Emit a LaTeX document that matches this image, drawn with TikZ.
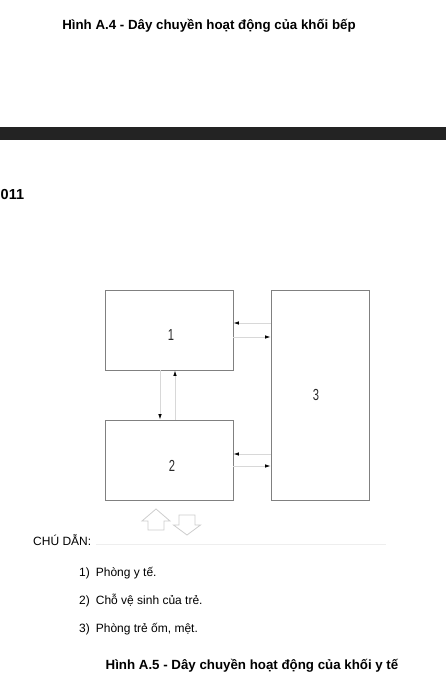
\documentclass[tikz,border=0pt]{standalone}
\usepackage{fontspec}
\usepackage{graphicx}
\setmainfont{Liberation Sans}
\usetikzlibrary{arrows.meta}
\definecolor{boxgray}{HTML}{808080}
\definecolor{linegray}{HTML}{D8D8D8}
\definecolor{hollowgray}{HTML}{CCCCCC}
\definecolor{barcolor}{HTML}{232323}
\definecolor{rulegray}{HTML}{EEEEEE}
\definecolor{numgray}{HTML}{2A2A2A}
\begin{document}
\begin{tikzpicture}[x=1pt,y=-1pt,
  box/.style={draw=boxgray, line width=0.9pt, inner sep=0pt, rectangle},
  num/.style={font=\fontsize{16}{16}\selectfont, text=numgray, inner sep=0pt, anchor=base},
  conn/.style={draw=linegray, line width=0.8pt, -{Latex[length=5.5pt,width=3.5pt,color=black]}},
  hollow/.style={draw=hollowgray, line width=0.8pt, line join=miter},
  captext/.style={font=\bfseries\fontsize{13.3}{16}\selectfont, inner sep=0pt, anchor=base},
  listtext/.style={font=\fontsize{12}{14}\selectfont, inner sep=0pt, anchor=base west}
]
\useasboundingbox (0,0) rectangle (446,695);

% top caption
\node[captext] (t4) at (209,29.5) {Hình A.4 - Dây chuyền hoạt động của khối bếp};

% dark bar
\fill[barcolor] (0,127) rectangle (446,140);

% header fragment
\node[font=\bfseries\fontsize{14.5}{16}\selectfont, inner sep=0pt, anchor=base west] (yr) at (0.5,199) {011};

% boxes
\node[box, minimum width=128pt, minimum height=80pt] (b1) at (169,330) {};
\node[box, minimum width=128pt, minimum height=80pt] (b2) at (169,460) {};
\node[box, minimum width=98pt, minimum height=210pt] (b3) at (320,395) {};

\node[num] (n1) at (171,340) {\scalebox{0.7}[1]{1}};
\node[num] (n2) at (172,471) {\scalebox{0.7}[1]{2}};
\node[num] (n3) at (316,400) {\scalebox{0.7}[1]{3}};

% connectors 1 <-> 3
\coordinate (u1) at ([yshift=7pt]b1.east);
\coordinate (l1) at ([yshift=-7pt]b1.east);
\draw[conn] (u1 -| b3.west) -- (u1);
\draw[conn] (l1) -- (l1 -| b3.west);

% connectors 2 <-> 3
\coordinate (u2) at ([yshift=6pt]b2.east);
\coordinate (l2) at ([yshift=-6pt]b2.east);
\draw[conn] (u2 -| b3.west) -- (u2);
\draw[conn] (l2) -- (l2 -| b3.west);

% connectors 1 <-> 2
\coordinate (v1) at ([xshift=-9pt]b1.south);
\coordinate (v2) at ([xshift=6pt]b2.north);
\draw[conn] (v1) -- (v1 |- b2.north);
\draw[conn] (v2) -- (v2 |- b1.south);

% hollow arrows
\draw[hollow] (148,530) -- (148,521) -- (142,521) -- (156,509) -- (170,521) -- (164,521) -- (164,530) -- cycle;
\draw[hollow] (179,515) -- (195,515) -- (195,525) -- (200.5,525) -- (187,535) -- (173.5,525) -- (179,525) -- cycle;

% legend
\node[font=\fontsize{12}{14}\selectfont, inner sep=0pt, anchor=base west] (cd) at (33,545) {CHÚ DẪN:};
\draw[rulegray, line width=0.6pt] (96,544) -- (386,544);
\node[listtext] (i1) at (79,576) {1)\hspace{6pt}Phòng y tế.};
\node[listtext] (i2) at (79,604) {2)\hspace{6pt}Chỗ vệ sinh của trẻ.};
\node[listtext] (i3) at (79,632) {3)\hspace{6pt}Phòng trẻ ốm, mệt.};

% bottom caption
\node[captext] (t5) at (252,669) {Hình A.5 - Dây chuyền hoạt động của khối y tế};
\end{tikzpicture}
\end{document}
